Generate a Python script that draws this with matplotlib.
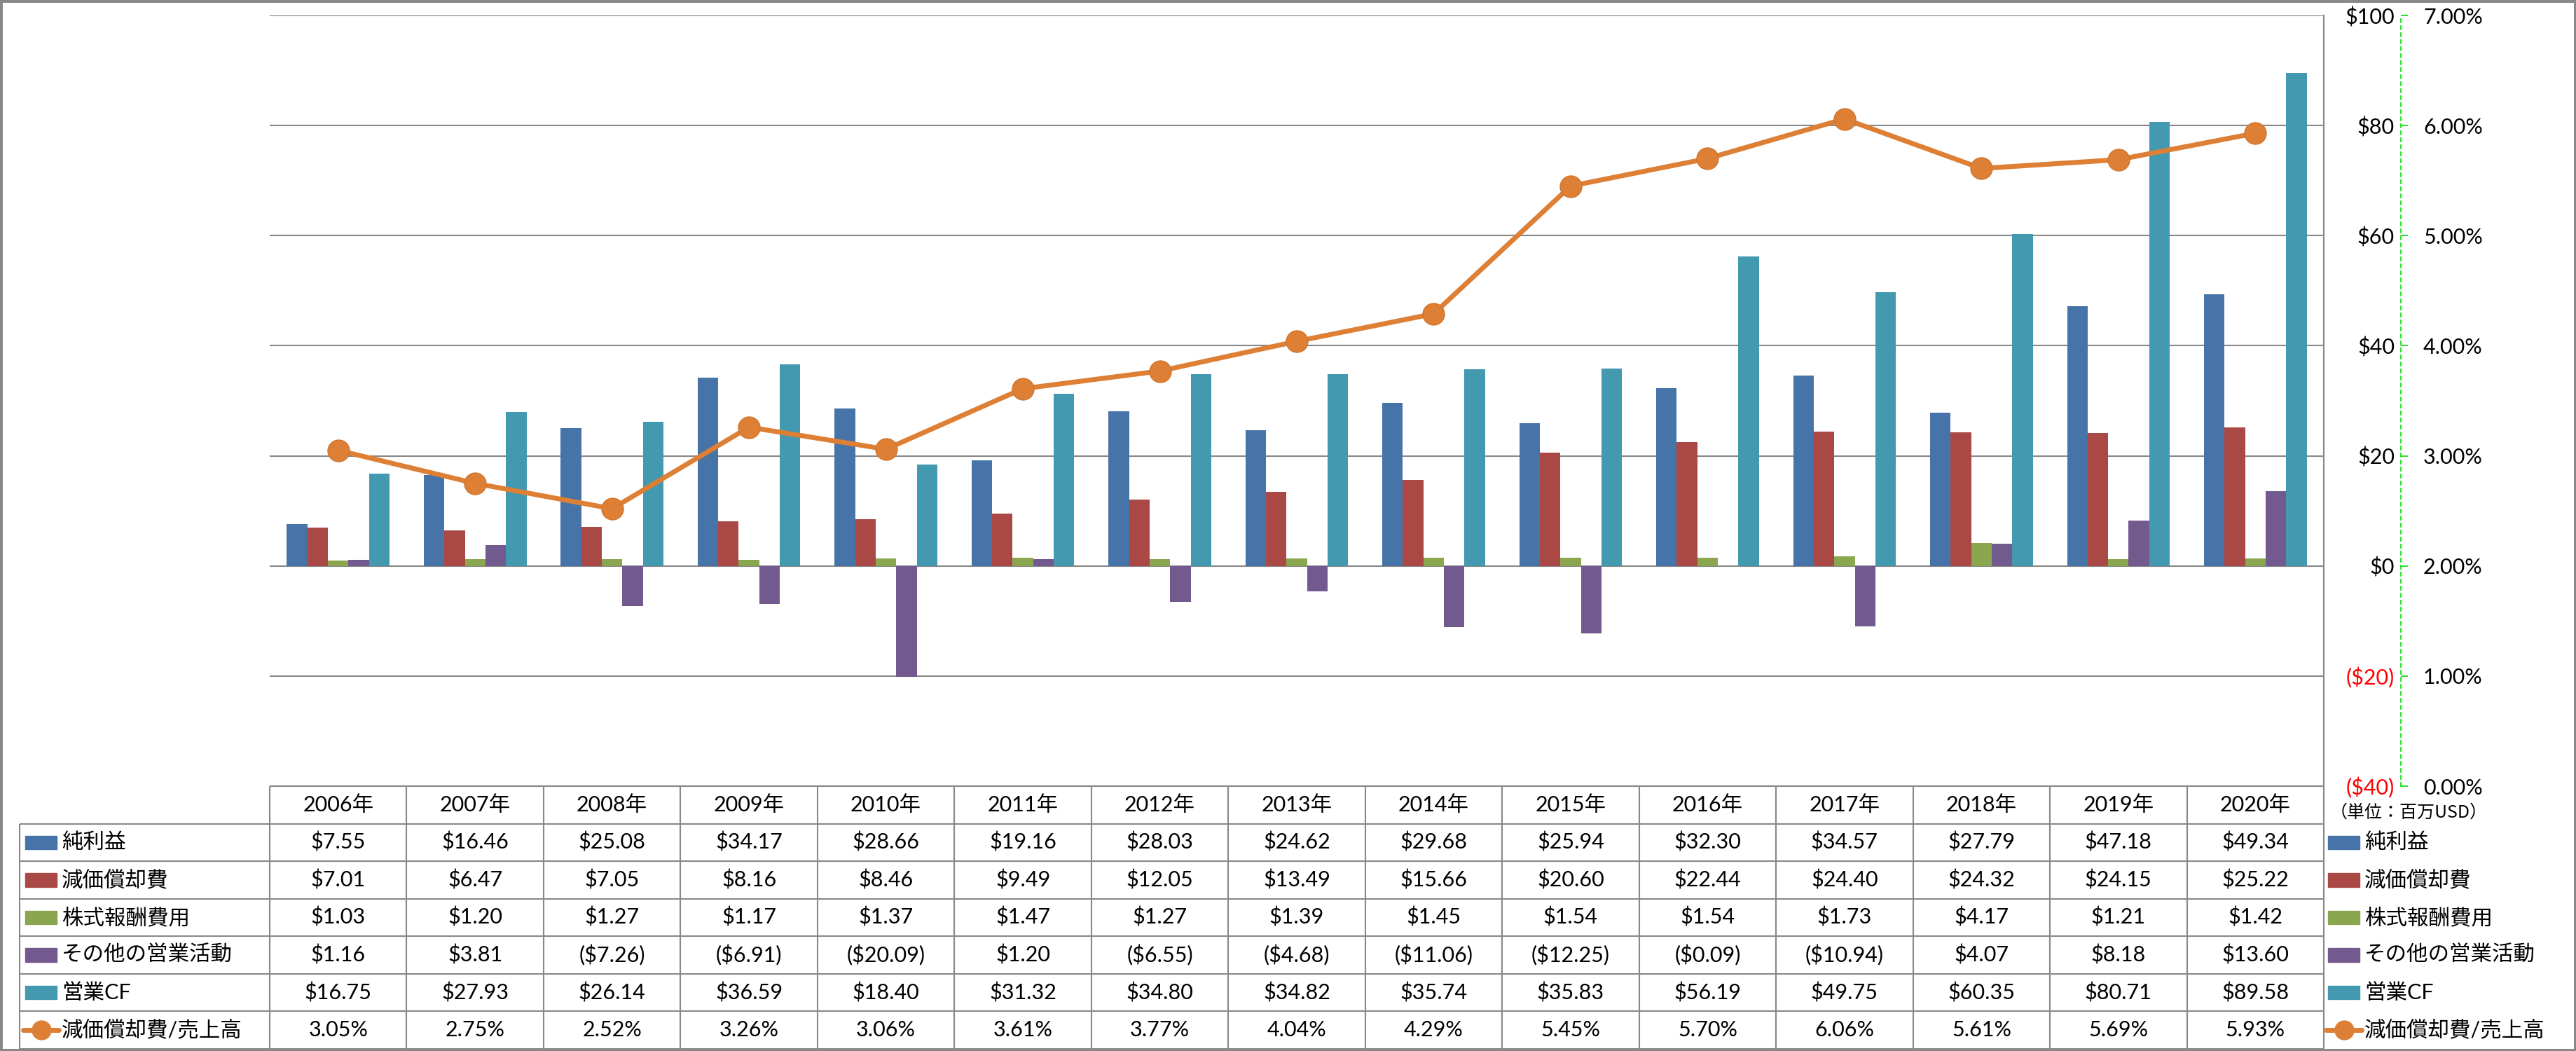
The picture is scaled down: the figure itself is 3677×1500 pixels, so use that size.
import matplotlib
matplotlib.use("Agg")
import matplotlib.pyplot as plt
import numpy as np
from matplotlib.patches import Rectangle

plt.rcParams["font.family"] = ["Lato", "Noto Sans CJK JP"]

years = ["2006年", "2007年", "2008年", "2009年", "2010年", "2011年", "2012年", "2013年",
         "2014年", "2015年", "2016年", "2017年", "2018年", "2019年", "2020年"]
net_income = [7.55, 16.46, 25.08, 34.17, 28.66, 19.16, 28.03, 24.62, 29.68, 25.94, 32.30, 34.57, 27.79, 47.18, 49.34]
depreciation = [7.01, 6.47, 7.05, 8.16, 8.46, 9.49, 12.05, 13.49, 15.66, 20.60, 22.44, 24.40, 24.32, 24.15, 25.22]
stock_comp = [1.03, 1.20, 1.27, 1.17, 1.37, 1.47, 1.27, 1.39, 1.45, 1.54, 1.54, 1.73, 4.17, 1.21, 1.42]
other_ops = [1.16, 3.81, -7.26, -6.91, -20.09, 1.20, -6.55, -4.68, -11.06, -12.25, -0.09, -10.94, 4.07, 8.18, 13.60]
operating_cf = [16.75, 27.93, 26.14, 36.59, 18.40, 31.32, 34.80, 34.82, 35.74, 35.83, 56.19, 49.75, 60.35, 80.71, 89.58]
dep_ratio = [3.05, 2.75, 2.52, 3.26, 3.06, 3.61, 3.77, 4.04, 4.29, 5.45, 5.70, 6.06, 5.61, 5.69, 5.93]

bar_names = ["純利益", "減価償却費", "株式報酬費用", "その他の営業活動", "営業CF"]
bar_colors = ["#4674A8", "#AA4846", "#8AA64E", "#725A8F", "#4399B0"]
line_name = "減価償却費/売上高"
line_color = "#DD7F35"

usd_ticks = [-40, -20, 0, 20, 40, 60, 80, 100]
pct_ticks = [0, 1, 2, 3, 4, 5, 6, 7]

W, H, DPI = 3677, 1500, 100
GRID = "#888888"
FS = 22


def px(v):
    return v * 72.0 / DPI


def money(v):
    return f"(${-v:.2f})" if v < 0 else f"${v:.2f}"


fig = plt.figure(figsize=(W / DPI, H / DPI), dpi=DPI)
fig.patch.set_edgecolor(GRID)
fig.patch.set_linewidth(5)

# plot area
L, R, T, B = 385, 3317, 22, 1122
ax = fig.add_axes([L / W, 1 - B / H, (R - L) / W, (B - T) / H])
n = len(years)
x = np.arange(n)
series = [net_income, depreciation, stock_comp, other_ops, operating_cf]
width = 0.15
for i, (vals, col) in enumerate(zip(series, bar_colors)):
    ax.bar(x + (i - 2) * width, vals, width=width, color=col, zorder=2)

ax.set_xlim(-0.5, n - 0.5)
ax.set_ylim(-40, 100)
ax.set_xticks([])
ax.grid(axis="y", color=GRID, lw=1.5, zorder=0)
ax.set_axisbelow(True)
for s in ["left", "top", "bottom"]:
    ax.spines[s].set_visible(False)
ax.spines["right"].set_color(GRID)
ax.spines["right"].set_linewidth(1.5)

# percentage axis
ax2 = ax.twinx()
ax2.set_ylim(0, 7)
ax2.plot(x, dep_ratio, color=line_color, lw=px(7), marker="o", ms=px(31),
         mfc=line_color, mec="#D0762F", mew=1, zorder=5)
for s in ["left", "top", "bottom"]:
    ax2.spines[s].set_visible(False)
ax2.spines["right"].set_position(("outward", px(3427 - R)))
ax2.spines["right"].set_color("#00DD00")
ax2.spines["right"].set_linestyle((0, (3, 3)))
ax2.spines["right"].set_linewidth(1.2)
ax2.set_yticks(pct_ticks)
ax2.set_yticklabels([f"{v:.2f}%" for v in pct_ticks])
ax2.tick_params(axis="y", length=px(10), width=1.2, color="#00DD00",
                pad=px(22), labelsize=FS)

# dollar labels sit just right of the plot area (after twinx, which resets sides)
ax.yaxis.tick_right()
ax.set_yticks(usd_ticks)
ax.set_yticklabels([money(v).replace(".00", "") for v in usd_ticks])
ax.tick_params(axis="y", length=0, pad=px(3418 - R), labelsize=FS)
for lab, v in zip(ax.get_yticklabels(), usd_ticks):
    lab.set_horizontalalignment("right")
    if v < 0:
        lab.set_color("#FF0000")

# data table
TL, TB = 28, 1497
unit = (R - L) / n
xl = -0.5 - (L - TL) / unit
axt = fig.add_axes([TL / W, 1 - TB / H, (R - TL) / W, (TB - B) / H])
axt.set_xlim(xl, n - 0.5)
axt.set_ylim(0, 7)
axt.axis("off")


def ux(p):
    return -0.5 + (p - L) / unit


lkw = dict(color=GRID, lw=1.5, clip_on=False)
axt.hlines(7, -0.5, n - 0.5, **lkw)
axt.hlines(np.arange(0, 7), xl, n - 0.5, **lkw)
axt.vlines(xl, 0, 6, **lkw)
axt.vlines(np.arange(n + 1) - 0.5, 0, 7, **lkw)

for k, yr in enumerate(years):
    axt.text(k, 6.5, yr, ha="center", va="center", fontsize=FS)

rows = [[money(v) for v in s] for s in series] + [[f"{r:.2f}%" for r in dep_ratio]]
for r, vals in enumerate(rows):
    yc = 5.5 - r
    for k, t in enumerate(vals):
        axt.text(k, yc, t, ha="center", va="center", fontsize=FS)

names = bar_names + [line_name]


def legend_column(p0, p1, ptext):
    for r, name in enumerate(names):
        yc = 5.5 - r
        if r < len(bar_colors):
            axt.add_patch(Rectangle((ux(p0), yc - 0.18), ux(p1) - ux(p0), 0.36,
                                    color=bar_colors[r], clip_on=False))
        else:
            axt.plot([ux(p0 - 3), ux(p1 + 3)], [yc, yc], color=line_color,
                     lw=px(7), solid_capstyle="round", clip_on=False)
            axt.plot([(ux(p0) + ux(p1)) / 2], [yc], marker="o", ms=px(27),
                     color=line_color, clip_on=False)
        axt.text(ux(ptext), yc, name, ha="left", va="center", fontsize=FS,
                 clip_on=False)


legend_column(36, 81, 88)
legend_column(3323, 3368, 3375)

fig.text(3438 / W, 1 - 1160 / H, "（単位：百万USD）", ha="center", va="center",
         fontsize=18, family=["Noto Sans CJK JP"])

fig.savefig("out.png", dpi=DPI)
